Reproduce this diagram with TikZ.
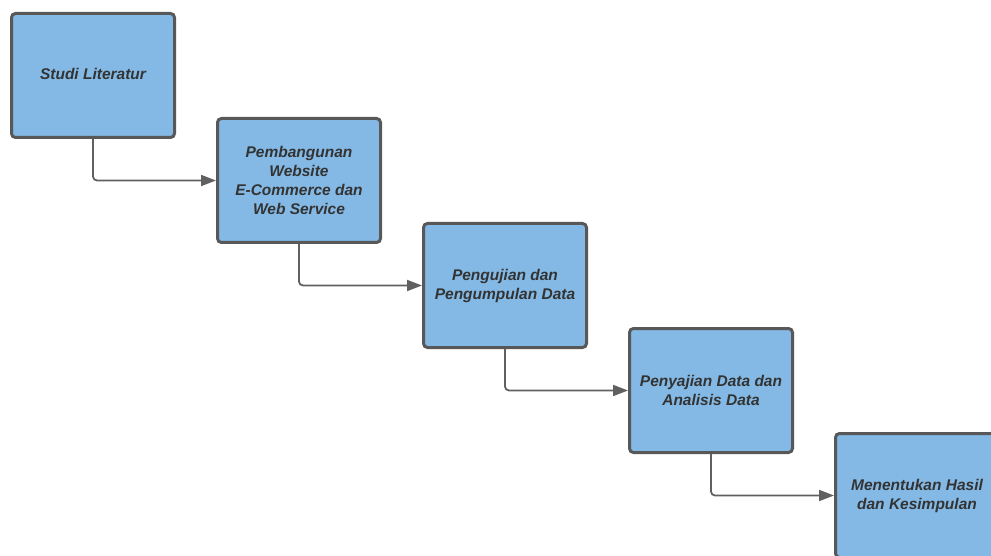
\documentclass[tikz,border=0pt]{standalone}
\usepackage{fontspec}
\setmainfont{Liberation Sans}
\usepackage{tikz}
\usetikzlibrary{positioning, arrows.meta}
\definecolor{boxFill}{RGB}{131,185,228}
\definecolor{boxLine}{RGB}{88,88,88}
\definecolor{boxText}{RGB}{51,51,51}
\definecolor{flowLine}{RGB}{96,96,96}
\tikzstyle{stage}=[draw=boxLine, fill=boxFill, line width=3pt, rounded corners=4pt,
  minimum width=163pt, minimum height=124pt, align=center, text=boxText,
  font=\fontsize{15.5}{19}\selectfont\bfseries\itshape]
\tikzstyle{flow}=[-{Triangle[length=15pt,width=11pt]}, draw=flowLine, line width=1.8pt, rounded corners=4pt]
\tikzstyle{nextStage}=[stage, below right=-22pt and 40pt of #1]

\begin{document}
\begin{tikzpicture}[x=1pt, y=1pt]
    \clip (0,0) rectangle (991,-556);
    \useasboundingbox (0,0) rectangle (991,-556);
    \node[stage] (studi) at (93,-75.5) {\raisebox{3pt}{Studi Literatur}};
    \node[nextStage=studi] (bangun) {Pembangunan\\Website\\E-Commerce dan\\Web Service};
    \node[nextStage=bangun] (uji) {Pengujian dan\\Pengumpulan Data};
    \node[nextStage=uji] (saji) {Penyajian Data dan\\Analisis Data};
    \node[nextStage=saji] (hasil) {Menentukan Hasil\\dan Kesimpulan};
    % alur antar tahap
    \draw[flow] (studi.south) |- (bangun.west);
    \draw[flow] (bangun.south) |- (uji.west);
    \draw[flow] (uji.south) |- (saji.west);
    \draw[flow] (saji.south) |- (hasil.west);
\end{tikzpicture}
\end{document}
